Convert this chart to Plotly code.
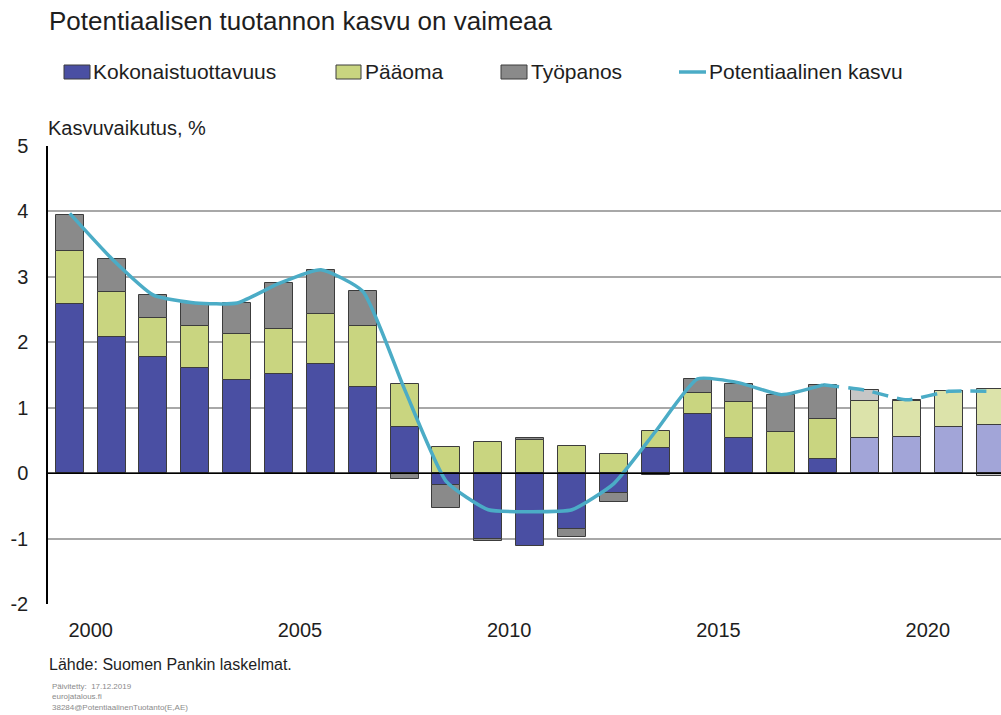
import plotly.graph_objects as go

years = list(range(2000, 2023))
kokonaistuottavuus = [2.59, 2.08, 1.77, 1.60, 1.42, 1.52, 1.67, 1.32, 0.71, -0.18, -1.01, -1.12,
                      -0.85, -0.30, 0.38, 0.90, 0.53, 0.00, 0.22, 0.53, 0.55, 0.70, 0.74]
paaoma = [0.80, 0.69, 0.60, 0.65, 0.71, 0.69, 0.77, 0.93, 0.66, 0.40, 0.47, 0.50,
          0.41, 0.30, 0.27, 0.33, 0.55, 0.63, 0.61, 0.57, 0.55, 0.55, 0.55]
tyopanos = [0.56, 0.50, 0.35, 0.35, 0.47, 0.69, 0.66, 0.53, -0.09, -0.35, -0.02, 0.03,
            -0.12, -0.14, -0.03, 0.21, 0.29, 0.57, 0.52, 0.17, 0.02, 0.00, -0.04]
potentiaalinen = [3.97, 3.28, 2.72, 2.60, 2.60, 2.90, 3.11, 2.78, 1.28, -0.13, -0.56, -0.59,
                  -0.56, -0.16, 0.64, 1.44, 1.38, 1.20, 1.35, 1.27, 1.12, 1.25, 1.25]
first_forecast_year = 2019
tick_years = [2000, 2005, 2010, 2015, 2020]
y_ticks = [-2, -1, 0, 1, 2, 3, 4, 5]

FONT = "Liberation Sans, Arial, sans-serif"
TXT = "#1e1e1e"
W, H = 1001, 715
ML, MR, MT, MB = 48, 0, 146, 111
PW, PH = W - ML - MR, H - MT - MB


def px(x):
    return (x - ML) / PW


def py(y):
    return (H - MB - y) / PH


def colors(hist, fc):
    return [fc if yr >= first_forecast_year else hist for yr in years]


fig = go.Figure()
outline = dict(color="#3c3c3c", width=1)
fig.add_trace(go.Bar(x=years, y=kokonaistuottavuus, name="Kokonaistuottavuus",
                     marker=dict(color=colors("#4A4FA3", "#A2A5D8"), line=outline), width=0.67))
fig.add_trace(go.Bar(x=years, y=paaoma, name="Pääoma",
                     marker=dict(color=colors("#C9D580", "#DCE3AA"), line=outline), width=0.67))
fig.add_trace(go.Bar(x=years, y=tyopanos, name="Työpanos",
                     marker=dict(color=colors("#8A8A8A", "#C6C6C6"), line=outline), width=0.67))

hist_idx = [i for i, yr in enumerate(years) if yr <= first_forecast_year - 1]
fc_idx = [i for i, yr in enumerate(years) if yr >= first_forecast_year - 1]
fig.add_trace(go.Scatter(x=[years[i] for i in hist_idx], y=[potentiaalinen[i] for i in hist_idx],
                         mode="lines", line=dict(color="#4BACC6", width=3.5, shape="spline", smoothing=0.5),
                         name="Potentiaalinen kasvu"))
fig.add_trace(go.Scatter(x=[years[i] for i in fc_idx], y=[potentiaalinen[i] for i in fc_idx],
                         mode="lines", line=dict(color="#4BACC6", width=3.5, shape="spline", smoothing=0.5,
                                                 dash="16px,9px"),
                         showlegend=False))

shapes = [
    dict(type="line", xref="paper", yref="y", x0=0, x1=1, y0=0, y1=0,
         line=dict(color="black", width=1.5), layer="above"),
]
annotations = []

# Legend (manual)
leg_y = 72
items = [("rect", "#4A4FA3", 64, 90, 91, "Kokonaistuottavuus"),
         ("rect", "#C9D580", 336, 361, 363, "Pääoma"),
         ("rect", "#8A8A8A", 501, 527, 529, "Työpanos"),
         ("line", "#4BACC6", 679, 706, 707, "Potentiaalinen kasvu")]
for kind, col, x0, x1, tx, label in items:
    if kind == "rect":
        shapes.append(dict(type="rect", xref="paper", yref="paper", x0=px(x0), x1=px(x1),
                           y0=py(leg_y + 7), y1=py(leg_y - 7), fillcolor=col,
                           line=dict(color="#3c3c3c", width=1)))
    else:
        shapes.append(dict(type="line", xref="paper", yref="paper", x0=px(x0), x1=px(x1),
                           y0=py(leg_y), y1=py(leg_y), line=dict(color=col, width=3.5)))
    annotations.append(dict(text=label, xref="paper", yref="paper", x=px(tx), y=py(leg_y),
                            xanchor="left", yanchor="middle", showarrow=False,
                            font=dict(size=21, color=TXT, family=FONT)))

annotations += [
    dict(text="Potentiaalisen tuotannon kasvu on vaimeaa", xref="paper", yref="paper",
         x=px(47), y=py(21), xanchor="left", yanchor="middle", showarrow=False,
         font=dict(size=26, color=TXT, family=FONT)),
    dict(text="Kasvuvaikutus, %", xref="paper", yref="paper", x=px(46), y=py(128),
         xanchor="left", yanchor="middle", showarrow=False,
         font=dict(size=20, color=TXT, family=FONT)),
    dict(text="Lähde: Suomen Pankin laskelmat.", xref="paper", yref="paper", x=px(47), y=py(664),
         xanchor="left", yanchor="middle", showarrow=False,
         font=dict(size=16, color=TXT, family=FONT)),
]
for i, t in enumerate(["Päivitetty:  17.12.2019", "eurojatalous.fi", "38284@PotentiaalinenTuotanto(E,AE)"]):
    annotations.append(dict(text=t, xref="paper", yref="paper", x=px(50), y=py(686 + i * 10.5),
                            xanchor="left", yanchor="middle", showarrow=False,
                            font=dict(size=8, color="#8a8a8a", family=FONT)))

fig.update_layout(
    width=W, height=H,
    margin=dict(l=ML, r=MR, t=MT, b=MB),
    paper_bgcolor="white", plot_bgcolor="white",
    barmode="relative", bargap=0,
    showlegend=False,
    shapes=shapes, annotations=annotations,
    font=dict(family=FONT, color=TXT),
    xaxis=dict(range=[1999.48, 2022.25], tickvals=[y + 0.5 for y in tick_years],
               ticktext=[str(y) for y in tick_years], showgrid=False, zeroline=False,
               showline=False, ticks="", tickfont=dict(size=20, color=TXT, family=FONT),
               ticklabelstandoff=12),
    yaxis=dict(range=[-2, 5], tickvals=y_ticks, ticktext=[str(v) for v in y_ticks],
               showgrid=True, gridcolor="#A8A8A8", gridwidth=1.5, zeroline=False,
               showline=True, linecolor="black", linewidth=1.5, ticks="",
               tickfont=dict(size=20, color=TXT, family=FONT), ticklabelstandoff=14),
)

fig.write_html("out.html", config={"displayModeBar": False},
               post_script="document.body.style.margin='0';document.body.style.overflow='hidden';")
